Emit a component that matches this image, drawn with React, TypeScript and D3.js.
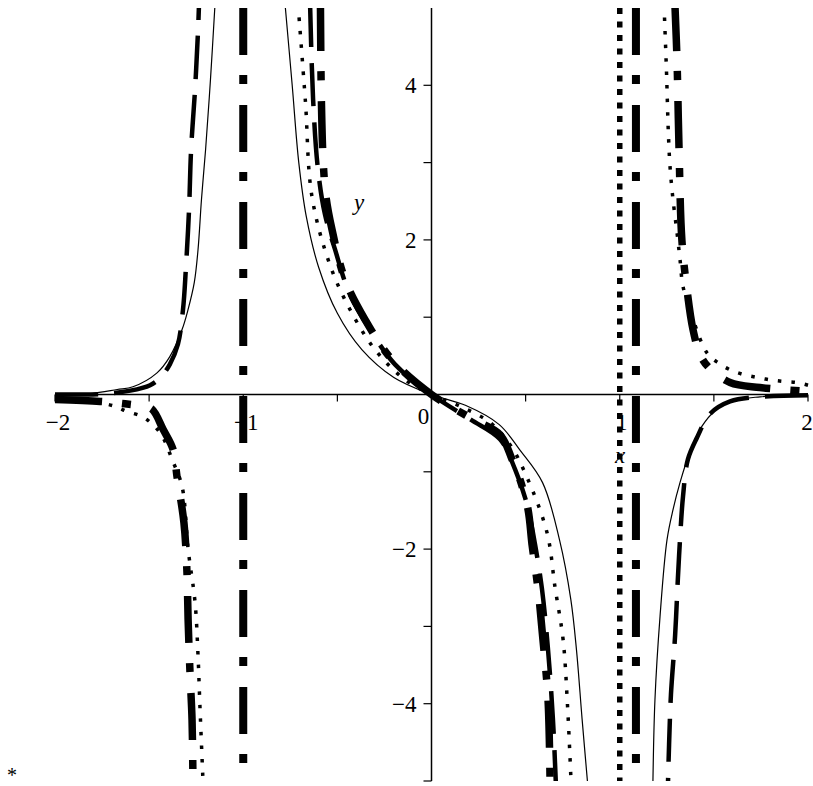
import * as d3 from 'd3'

// branches, [x, y]
const solidLeft = [[-2, 0], [-1.81, 0.013], [-1.67, 0.065], [-1.586, 0.1], [-1.458, 0.28], [-1.39, 0.49], [-1.325, 0.84], [-1.293, 1.1], [-1.26, 1.45], [-1.24, 1.88], [-1.222, 2.52], [-1.2, 3.17], [-1.174, 4.08], [-1.15, 5.05]]
const solidMid = [[-0.778, 5.05], [-0.74, 4.0], [-0.705, 3.0], [-0.665, 2.3], [-0.6, 1.65], [-0.5, 1.05], [-0.37, 0.58], [-0.2, 0.22], [0, 0], [0.18, -0.14], [0.36, -0.39], [0.47, -0.72], [0.59, -1.14], [0.68, -1.88], [0.74, -2.65], [0.77, -3.3], [0.8, -4.2], [0.83, -5.05]]
const solidRight = [[1.176, -5.05], [1.187, -3.95], [1.214, -2.87], [1.251, -1.88], [1.283, -1.49], [1.32, -1.14], [1.373, -0.74], [1.437, -0.41], [1.506, -0.21], [1.586, -0.09], [1.745, -0.03], [2, -0.006]]

const dotLeft = [[-2, -0.06], [-1.8, -0.09], [-1.68, -0.155], [-1.618, -0.22], [-1.538, -0.285], [-1.48, -0.39], [-1.43, -0.54], [-1.378, -0.84], [-1.325, -1.19], [-1.293, -2.0], [-1.256, -2.69], [-1.24, -3.39], [-1.23, -4.04], [-1.213, -5.05]]
const dotMid = [[-0.709, 5.05], [-0.67, 3.8], [-0.635, 2.56], [-0.54, 1.68], [-0.433, 1.1], [-0.3, 0.58], [-0.14, 0.19], [0, 0], [0.15, -0.15], [0.31, -0.36], [0.42, -0.66], [0.507, -1.07], [0.614, -1.79], [0.656, -2.49], [0.699, -3.17], [0.722, -4.0], [0.742, -5.05]]
const dotRight = [[1.235, 5.05], [1.248, 4.2], [1.258, 3.4], [1.267, 2.95], [1.283, 2.52], [1.304, 2.1], [1.32, 1.75], [1.336, 1.4], [1.384, 1.01], [1.463, 0.54], [1.522, 0.41], [1.586, 0.32], [1.655, 0.26], [1.73, 0.22], [1.798, 0.19], [1.867, 0.17], [1.942, 0.155], [2, 0.12]]

const dashLeft = [[-2, 0], [-1.76, 0.006], [-1.6, 0.05], [-1.495, 0.12], [-1.44, 0.22], [-1.39, 0.39], [-1.347, 0.65], [-1.32, 1.1], [-1.305, 1.62], [-1.288, 2.39], [-1.277, 3.17], [-1.256, 3.95], [-1.24, 4.72], [-1.235, 5.05]]
const dashMid = [[-0.645, 5.05], [-0.629, 3.82], [-0.603, 2.91], [-0.566, 2.33], [-0.513, 1.88], [-0.433, 1.29], [-0.327, 0.84], [-0.194, 0.39], [0, 0], [0.205, -0.32], [0.364, -0.58], [0.444, -0.97], [0.507, -1.42], [0.55, -1.94], [0.587, -2.52], [0.619, -3.3], [0.645, -4.2], [0.661, -5.05]]
const dashRight = [[2, -0.01], [1.745, -0.03], [1.586, -0.09], [1.48, -0.25], [1.41, -0.56], [1.362, -0.84], [1.336, -1.32], [1.32, -1.88], [1.309, -2.37], [1.294, -3.12], [1.272, -3.88], [1.262, -4.53], [1.256, -5.05]]

const dashDotLeft = [[-2, -0.065], [-1.76, -0.09], [-1.628, -0.12], [-1.54, -0.15], [-1.485, -0.19], [-1.426, -0.45], [-1.373, -0.71], [-1.352, -1.06], [-1.315, -1.66], [-1.299, -2.3], [-1.293, -2.91], [-1.283, -3.59], [-1.272, -4.21], [-1.267, -5.05]]
const dashDotMid = [[-0.59, 5.05], [-0.585, 3.82], [-0.575, 3.0], [-0.56, 2.55], [-0.529, 2.14], [-0.46, 1.49], [-0.353, 0.97], [-0.21, 0.45], [0, 0], [0.205, -0.3], [0.364, -0.52], [0.428, -0.84], [0.47, -1.1], [0.513, -1.49], [0.534, -1.94], [0.566, -2.52], [0.592, -3.17], [0.619, -3.95], [0.63, -5.05]]
const dashDotRight = [[1.293, 5.05], [1.304, 4.34], [1.315, 3.17], [1.33, 2.0], [1.357, 1.36], [1.389, 0.84], [1.426, 0.52], [1.469, 0.36], [1.586, 0.155], [1.745, 0.09], [2, 0.04]]

// vertical jumps across the poles
const dashDotVerticals = [-1, 1.086]
const dotVerticals = [1]

const xTicks = [-2, -1.5, -1, -0.5, 0, 0.5, 1, 1.5, 2]
const xLabels = [-2, -1, 0, 1, 2]
const yTicks = [-5, -4, -3, -2, -1, 1, 2, 3, 4]
const yLabels = [-4, -2, 2, 4]

const W = 813, H = 786

const x = d3.scaleLinear().domain([-2, 2]).range([55, 808])
const y = d3.scaleLinear().domain([-5, 5]).range([781, 8])

const line = d3.line<number[]>()
  .x(d => x(d[0]))
  .y(d => y(d[1]))
  .curve(d3.curveCatmullRom.alpha(0.5))

const SERIF = '"Liberation Serif", "DejaVu Serif", serif'
const fmt = (v: number) => (v < 0 ? `\u2212${-v}` : `${v}`)

const styles = {
  solid: { strokeWidth: 1.2, dash: undefined },
  dot: { strokeWidth: 3.5, dash: '3.5,10' },
  dash: { strokeWidth: 4.5, dash: '43,16' },
  dashDot: { strokeWidth: 7.5, dash: '47,20,9,21' },
}

function Curve({ data, kind }: { data: number[][]; kind: keyof typeof styles }) {
  const s = styles[kind]
  return (
    <path d={line(data) || ''} fill="none" stroke="#000" strokeWidth={s.strokeWidth}
      strokeDasharray={s.dash} strokeLinecap="butt" strokeLinejoin="round" />
  )
}

export default function App() {
  const x0 = x(0), y0 = y(0)
  return (
    <svg width={W} height={H} style={{ position: 'absolute', left: 0, top: 0, background: '#fff' }}>
      <defs>
        <clipPath id="plot"><rect x={50} y={8} width={763} height={773} /></clipPath>
      </defs>

      {/* axes */}
      <line x1={x(-2)} x2={x(2)} y1={y0} y2={y0} stroke="#000" strokeWidth={1.5} />
      <line x1={x0} x2={x0} y1={y(5)} y2={y(-5)} stroke="#000" strokeWidth={1.5} />
      {xTicks.map(t => (
        <line key={'xt' + t} x1={x(t)} x2={x(t)} y1={y0} y2={y0 + 7} stroke="#000" strokeWidth={1.2} />
      ))}
      {yTicks.map(t => (
        <line key={'yt' + t} x1={x0 - 8} x2={x0} y1={y(t)} y2={y(t)} stroke="#000" strokeWidth={1.2} />
      ))}
      {xLabels.map(t => (
        <text key={'xl' + t} x={t === 0 ? x0 - 8 : x(t) + (t < 0 ? 3 : t === 2 ? -1 : 2)}
          y={t === 0 ? y0 + 29 : y0 + 35} textAnchor="middle" fontFamily={SERIF} fontSize={23}>{fmt(t)}</text>
      ))}
      {yLabels.map(t => (
        <text key={'yl' + t} x={x0 - 15} y={y(t) + 8} textAnchor="end" fontFamily={SERIF} fontSize={23}>{fmt(t)}</text>
      ))}
      <text x={359} y={210} textAnchor="middle" fontFamily={SERIF} fontStyle="italic" fontSize={23}>y</text>
      <text x={620} y={463} textAnchor="middle" fontFamily={SERIF} fontStyle="italic" fontSize={23}>x</text>
      <text x={12} y={782} textAnchor="middle" fontFamily={SERIF} fontSize={20}>*</text>

      <g clipPath="url(#plot)">
        {dashDotVerticals.map(v => (
          <line key={'vd' + v} x1={x(v)} x2={x(v)} y1={y(5)} y2={y(-5)} stroke="#000"
            strokeWidth={8} strokeDasharray={styles.dashDot.dash} />
        ))}
        {dotVerticals.map(v => (
          <line key={'vo' + v} x1={x(v)} x2={x(v)} y1={y(5)} y2={y(-5)} stroke="#000"
            strokeWidth={5.5} strokeDasharray="6,7.5" />
        ))}

        <Curve data={dashDotLeft} kind="dashDot" />
        <Curve data={dashDotMid} kind="dashDot" />
        <Curve data={dashDotRight} kind="dashDot" />

        <Curve data={dashLeft} kind="dash" />
        <Curve data={dashMid} kind="dash" />
        <Curve data={dashRight} kind="dash" />

        <Curve data={dotLeft} kind="dot" />
        <Curve data={dotMid} kind="dot" />
        <Curve data={dotRight} kind="dot" />

        <Curve data={solidLeft} kind="solid" />
        <Curve data={solidMid} kind="solid" />
        <Curve data={solidRight} kind="solid" />
      </g>
    </svg>
  )
}
